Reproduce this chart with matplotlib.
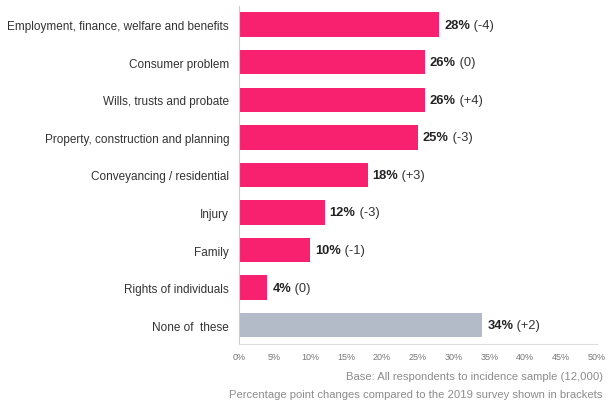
import matplotlib
matplotlib.use("Agg")
import matplotlib.pyplot as plt

plt.rcParams['font.family'] = ['Liberation Sans', 'DejaVu Sans']

categories = ["Employment, finance, welfare and benefits", "Consumer problem",
              "Wills, trusts and probate", "Property, construction and planning",
              "Conveyancing / residential", "Injury", "Family",
              "Rights of individuals", "None of  these"]
values = [28, 26, 26, 25, 18, 12, 10, 4, 34]
changes = ["-4", "0", "+4", "-3", "+3", "-3", "-1", "0", "+2"]
ticks = [0, 5, 10, 15, 20, 25, 30, 35, 40, 45, 50]

pink = '#F7216F'
grey = '#B3BBC8'
colors = [pink] * 8 + [grey]

fig = plt.figure(figsize=(6.09, 4.02), dpi=100)
ax = fig.add_axes([0.392, 0.142, 0.588, 0.841])

y = list(range(len(categories)))
ax.barh(y, values, height=0.65, color=colors)
ax.set_xlim(0, 50)
ax.set_ylim(8.5, -0.5)

ax.set_yticks(y)
ax.set_yticklabels(categories, fontsize=8.5, color='#333333')
ax.set_xticks(ticks)
ax.set_xticklabels([f"{t}%" for t in ticks], fontsize=6.5, color='#777777')
ax.tick_params(length=0, axis='y', pad=7)
ax.tick_params(length=0, axis='x', pad=6)

for s in ['top', 'right']:
    ax.spines[s].set_visible(False)
ax.spines['left'].set_color('#CCCCCC')
ax.spines['bottom'].set_color('#DDDDDD')

# bold value followed by the change in brackets
for yi, v, c in zip(y, values, changes):
    t = ax.text(v + 0.7, yi, f"{v}%", fontsize=9.3, fontweight='bold',
                color='#222222', va='center', ha='left')
    ax.annotate(f" ({c})", xy=(1, 0.5), xycoords=t, va='center', ha='left',
                fontsize=9.3, color='#333333')

fig.text(0.99, 0.063, "Base: All respondents to incidence sample (12,000)",
         ha='right', va='center', fontsize=8.1, color='#8C8C8C')
fig.text(0.99, 0.018, "Percentage point changes compared to the 2019 survey shown in brackets",
         ha='right', va='center', fontsize=8.1, color='#8C8C8C')

fig.savefig("out.png", dpi=100)
